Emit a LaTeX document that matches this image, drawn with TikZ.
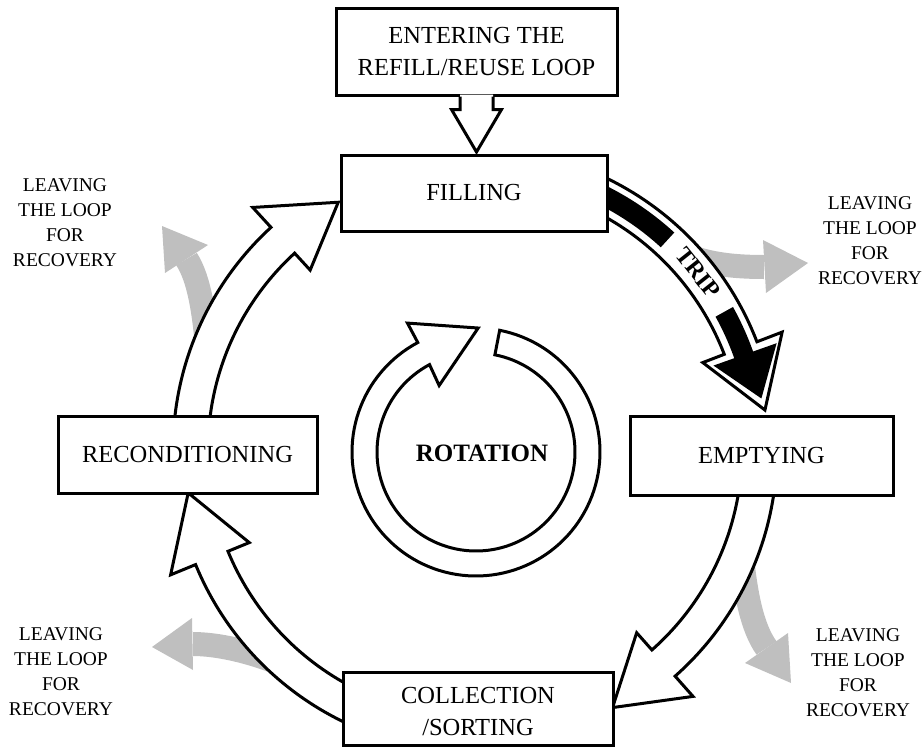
\documentclass[tikz,border=0pt]{standalone}
\usepackage{fontspec}
\setmainfont{Liberation Serif}
\usetikzlibrary{calc}
\definecolor{leavegray}{RGB}{191,191,191}
\tikzset{
  stagebox/.style={draw=black, line width=3pt, fill=white, rectangle, inner sep=0pt,
    align=center, font=\fontsize{24.5}{32}\selectfont},
  cyclearrow/.style={draw=black, fill=white, line width=3pt, line join=miter},
  leaveshaft/.style={draw=leavegray, line width=24pt},
  leavehead/.style={fill=leavegray},
  leavetext/.style={align=center, inner sep=0pt, font=\fontsize{19.5}{25}\selectfont},
}
% curved block arrow around the current origin:
% #1 style, #2 start angle, #3 head base angle, #4 tip angle, #5 tip radius,
% #6 inner radius, #7 outer radius, #8 inner barb radius, #9 outer barb radius
\newcommand\bentarrow[9]{%
  \path[#1] (#2:#7) -- plot[domain=#2:#3,samples=40] (\x:#7) -- (#3:#9) -- (#4:#5)
    -- (#3:#8) -- (#3:#6) -- plot[domain=#3:#2,samples=40] (\x:#6) -- cycle;}
\begin{document}
\begin{tikzpicture}[x=1pt,y=-1pt]
\useasboundingbox (0,0) rectangle (923,747);

% grey arrows leaving the loop
\coordinate (tr0) at (672,248); \coordinate (tr1) at (764,267);
\draw[leaveshaft] (tr0) .. controls (700,265) and (738,267) .. (tr1);
\fill[leavehead] (763,240) -- (808,263) -- (766,293) -- cycle;

\coordinate (tl0) at (207,345); \coordinate (tl1) at (186.5,259);
\draw[leaveshaft] (tl0) .. controls (204,315) and (200,280) .. (tl1);
\fill[leavehead] (165,273) -- (162,226) -- (208,245) -- cycle;

\coordinate (br0) at (742,558); \coordinate (br1) at (766.5,648);
\draw[leaveshaft] (br0) .. controls (746,595) and (752,627.5) .. (br1);
\fill[leavehead] (788,633) -- (791,683) -- (745,663) -- cycle;

\coordinate (bl0) at (290,668); \coordinate (bl1) at (193,644);
\draw[leaveshaft] (bl0) .. controls (255,652) and (218,644) .. (bl1);
\fill[leavehead] (192,618) -- (152,647) -- (193,670) -- cycle;

% the refill/reuse cycle
\begin{scope}[shift={(475,450)}]
  \bentarrow{cyclearrow}{-178}{-132.5}{-118.9}{283}{267}{302}{244}{329}
  \bentarrow{cyclearrow}{3}{48.5}{61.9}{292}{267}{302}{244}{329}
  \bentarrow{cyclearrow}{-250}{-202.3}{-188.5}{290}{267}{302}{244}{329}
  % trip arrow: outlined, filled black except behind its label
  \bentarrow{cyclearrow}{-75}{-21}{-7.85}{292.7}{267}{302}{244}{329}
  \fill[black] (-75:295) -- plot[domain=-75:-47.5,samples=30] (\x:295)
    -- (-47.5:275) -- plot[domain=-47.5:-75,samples=30] (\x:275) -- cycle;
  \bentarrow{fill=black}{-29}{-19.5}{-10.2}{291}{275}{295}{253}{320}
  \node[rotate=-51.5, inner sep=0pt, font=\bfseries\fontsize{24}{24}\selectfont]
    (trip) at (-38.5:285) {TRIP};
\end{scope}

% rotation symbol
\begin{scope}[shift={(476,452)}]
  \path[cyclearrow] (-79:124) -- plot[domain=-79:242,samples=120] (\x:124)
    -- (242:146) -- (271:124) -- (241:76) -- (242:99)
    -- plot[domain=242:-79,samples=120] (\x:99) -- cycle;
  \node[font=\bfseries\fontsize{25}{25}\selectfont] (rot) at (6,1) {ROTATION};
\end{scope}

% stages
\node[stagebox, minimum width=281pt, minimum height=87pt] (enter) at (476.5,51.5)
  {ENTERING THE\\REFILL/REUSE LOOP};
\node[stagebox, minimum width=266pt, minimum height=76pt] (filling) at (474,193) {FILLING};
\node[stagebox, minimum width=263pt, minimum height=79pt] (emptying) at (761.5,455.5) {EMPTYING};
\node[stagebox, minimum width=259pt, minimum height=77pt] (recond) at (187.5,454.5) {RECONDITIONING};
\node[stagebox, minimum width=270pt, minimum height=73.5pt] (collect) at (478,708.75)
  {\raisebox{-4pt}[\height][\depth]{\begin{tabular}{@{}c@{}}COLLECTION\\/SORTING\end{tabular}}};

% entry arrow into the loop
\coordinate (entrytip) at ($(enter.south |- filling.north)+(0,-1.5)$);
\fill[white] ($(enter.south)+(-16.5,-2)$) -- ($(enter.south)+(-16.5,13)$)
  -- ($(enter.south)+(-25,13)$) -- (entrytip) -- ($(enter.south)+(25,13)$)
  -- ($(enter.south)+(16.5,13)$) -- ($(enter.south)+(16.5,-2)$) -- cycle;
\draw[line width=3pt, line join=miter] ($(enter.south)+(-16.5,0)$) -- ($(enter.south)+(-16.5,13)$)
  -- ($(enter.south)+(-25,13)$) -- (entrytip) -- ($(enter.south)+(25,13)$)
  -- ($(enter.south)+(16.5,13)$) -- ($(enter.south)+(16.5,0)$);

% labels of the exits
\node[leavetext] (lvtl) at (65,223) {LEAVING\\THE LOOP\\FOR\\RECOVERY};
\node[leavetext] (lvtr) at (870,241) {LEAVING\\THE LOOP\\FOR\\RECOVERY};
\node[leavetext] (lvbl) at (61,672) {LEAVING\\THE LOOP\\FOR\\RECOVERY};
\node[leavetext] (lvbr) at (858,673) {LEAVING\\THE LOOP\\FOR\\RECOVERY};
\end{tikzpicture}
\end{document}
